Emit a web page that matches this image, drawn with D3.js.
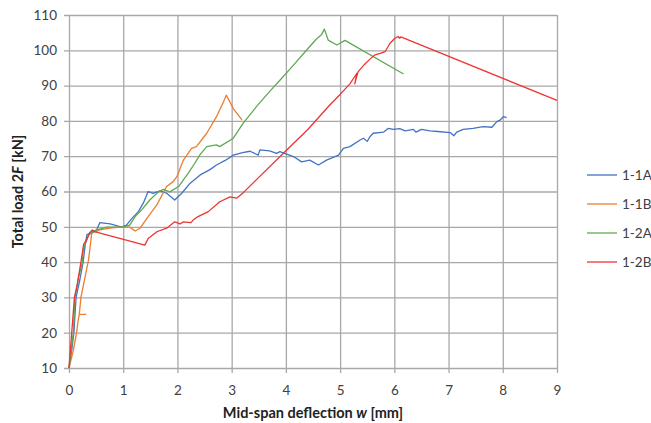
<!DOCTYPE html>
<html><head><meta charset="utf-8">
<script src="https://cdn.jsdelivr.net/npm/d3@7"></script>
<style>
html,body{margin:0;padding:0;background:#fff;}
svg{display:block;font-family:Lato,"Open Sans",sans-serif;}
</style></head>
<body><svg id="chart" width="651" height="423"></svg>
<script>
const xTicks = [0,1,2,3,4,5,6,7,8,9];
const yTicks = [10,20,30,40,50,60,70,80,90,100,110];
const seriesNames = ["1-1A","1-1B","1-2A","1-2B"];
const seriesColors = ["#4472C4","#ED7D31","#5DAA52","#EE3333"];

const w_1_1A = [0,0.05,0.09,0.13,0.2,0.26,0.3,0.33,0.42,0.51,0.57,0.76,0.97,1.06,1.16,1.28,1.37,1.46,1.55,1.68,1.8,1.95,2.08,2.23,2.42,2.6,2.72,2.88,3.03,3.2,3.34,3.49,3.52,3.7,3.83,3.89,4.14,4.29,4.44,4.6,4.75,4.97,5.06,5.18,5.37,5.43,5.5,5.55,5.61,5.8,5.89,5.98,6.1,6.2,6.35,6.4,6.5,6.66,6.8,7.03,7.1,7.15,7.27,7.45,7.64,7.8,7.89,7.95,8.01,8.07];
const F_1_1A = [10,15,20,30,35,40,45,47.7,48.6,49.1,51.2,50.8,49.9,50.5,52.4,54.3,56.7,60,59.5,60.2,59.5,57.6,59.5,62.3,64.7,66.2,67.5,68.8,70.3,71,71.4,70.3,71.8,71.5,70.8,71.3,69.9,68.4,68.9,67.5,68.9,70.3,72.2,72.7,74.6,75.1,74.2,75.5,76.5,76.8,77.9,77.6,77.8,77.2,77.6,76.8,77.6,77.2,77.0,76.7,75.8,76.8,77.6,77.9,78.4,78.2,79.8,80.2,81.2,80.9];

const w_1_1B = [0,0.08,0.14,0.17,0.19,0.31,0.19,0.22,0.3,0.36,0.42,0.57,0.75,0.94,1.12,1.22,1.31,1.46,1.62,1.8,1.92,1.99,2.11,2.26,2.35,2.54,2.72,2.85,2.9,3.03,3.19];
const F_1_1B = [10,15,20,23.6,25.2,25.2,25.2,30,36,40.6,48.2,49.1,49.6,49.9,49.9,48.8,49.6,52.9,56.2,61.4,62.8,64.2,68.9,72.2,72.7,76.5,81.2,85.4,87.3,83.5,80.3];

const w_1_2A = [0,0.04,0.08,0.11,0.18,0.25,0.26,0.36,0.51,0.7,1.0,1.12,1.22,1.34,1.49,1.65,1.74,1.86,2.02,2.2,2.32,2.42,2.54,2.72,2.78,3.03,3.21,3.46,3.71,3.89,4.14,4.38,4.55,4.66,4.71,4.78,4.94,5.09,6.17];
const F_1_2A = [10,15,20,30,36,40,43.4,47.7,49.1,49.9,50,50.5,52.9,54.8,57.6,59.9,60.6,59.9,61.4,65.2,68,70.5,72.7,73.2,72.7,75.1,79.3,84.1,88.5,91.5,95.8,100,103,104.5,106,102.9,101.5,102.8,93.3];

const w_1_2B = [0,0.05,0.1,0.15,0.22,0.27,0.33,0.39,0.43,0.47,1.40,1.46,1.62,1.8,1.95,2.05,2.11,2.25,2.29,2.38,2.57,2.78,2.97,3.09,3.21,3.5,3.93,4.4,4.81,5.0,5.18,5.31,5.27,5.33,5.45,5.55,5.64,5.74,5.83,5.92,6.01,6.07,6.1,6.12,9.0];
const F_1_2B = [10,20,30,33.5,40,45,46.5,48.5,49.1,48.6,44.8,46.7,48.6,49.6,51.4,50.8,51.4,51.2,51.9,52.9,54.3,57.1,58.5,58.1,59.6,64,70.5,77.5,84.5,87.5,90.5,93.5,90.5,93.9,96,97.5,98.7,99.1,99.6,102,103.4,103.9,103.4,103.8,85.8];

const seriesW = [w_1_1A,w_1_1B,w_1_2A,w_1_2B];
const seriesF = [F_1_1A,F_1_1B,F_1_2A,F_1_2B];

const svg = d3.select("#chart");
const L = 69, T = 15, W = 488, H = 353;
const x = d3.scaleLinear().domain([0,9]).range([0,W]);
const y = d3.scaleLinear().domain([10,110]).range([H,0]);
const g = svg.append("g").attr("transform",`translate(${L},${T})`);

const gridColor = "#a8a8a8";
const ya = g.append("g").call(d3.axisLeft(y).tickValues(yTicks).tickSize(0).tickPadding(0));
ya.select(".domain").remove();
ya.selectAll(".tick line").attr("x1",-5).attr("x2",W).attr("stroke",gridColor).attr("stroke-width",1.3);
ya.selectAll(".tick text").attr("x",-12).attr("font-size",13.5).attr("fill","#404040").attr("font-family","Lato,'Open Sans',sans-serif");

const xa = g.append("g").attr("transform",`translate(0,${H})`).call(d3.axisBottom(x).tickValues(xTicks).tickSize(0).tickPadding(0));
xa.select(".domain").remove();
xa.selectAll(".tick line").attr("y1",5).attr("y2",-H).attr("stroke",gridColor).attr("stroke-width",1.3);
xa.selectAll(".tick text").attr("y",17).attr("font-size",13.5).attr("fill","#404040").attr("font-family","Lato,'Open Sans',sans-serif");

const line = d3.line().x(d=>x(d[0])).y(d=>y(d[1]));
seriesNames.forEach((n,i)=>{
  const pts = seriesW[i].map((v,k)=>[v,seriesF[i][k]]);
  g.append("path").datum(pts).attr("d",line).attr("fill","none")
   .attr("stroke",seriesColors[i]).attr("stroke-width",1.3).attr("stroke-linejoin","round");
});

const xt = svg.append("text").attr("x",L+W/2).attr("y",418).attr("text-anchor","middle")
  .attr("font-size",14.5).attr("font-weight","bold").attr("fill","#222");
xt.append("tspan").text("Mid-span deflection  ");
xt.append("tspan").attr("font-style","italic").text("w");
xt.append("tspan").text(" [mm]");

const yt = svg.append("text").attr("transform",`translate(23,${T+H/2}) rotate(-90)`).attr("text-anchor","middle")
  .attr("font-size",14.5).attr("font-weight","bold").attr("fill","#222");
yt.append("tspan").text("Total load 2");
yt.append("tspan").attr("font-style","italic").text("F");
yt.append("tspan").text(" [kN]");

const lg = svg.append("g");
const legY = [175,204,233,262];
seriesNames.forEach((n,i)=>{
  lg.append("line").attr("x1",587).attr("x2",617).attr("y1",legY[i]).attr("y2",legY[i])
    .attr("stroke",seriesColors[i]).attr("stroke-width",1.3);
  lg.append("text").attr("x",622).attr("y",legY[i]+5).attr("font-size",13.5).attr("fill","#404040").text(n);
});
</script></body></html>
